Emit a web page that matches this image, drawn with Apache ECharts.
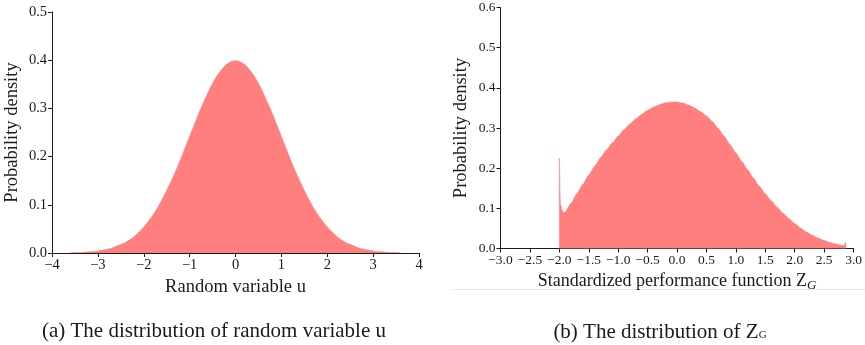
<!DOCTYPE html>
<html>
<head>
<meta charset="utf-8">
<script src="https://cdn.jsdelivr.net/npm/echarts/dist/echarts.min.js"></script>
<style>
  html, body { margin: 0; padding: 0; background: #fff; }
  #chart { width: 865px; height: 345px; }
</style>
</head>
<body>
<div id="chart"></div>
<script>
// (a) random variable u - density
const uValues = [
  -3.6, -3.5, -3.4, -3.3, -3.2, -3.1, -3.0, -2.9, -2.8, -2.7, -2.6, -2.5, -2.4, -2.3, -2.2, -2.1,
  -2.0, -1.9, -1.8, -1.7, -1.6, -1.5, -1.4, -1.3, -1.2, -1.1, -1.0, -0.9, -0.8, -0.7, -0.6, -0.5,
  -0.4, -0.3, -0.2, -0.1, 0.0, 0.1, 0.2, 0.3, 0.4, 0.5, 0.6, 0.7, 0.8, 0.9, 1.0, 1.1, 1.2, 1.3,
  1.4, 1.5, 1.6, 1.7, 1.8, 1.9, 2.0, 2.1, 2.2, 2.3, 2.4, 2.5, 2.6, 2.7, 2.8, 2.9, 3.0, 3.1, 3.2,
  3.3, 3.4, 3.5, 3.6
]
const uDensity = [
  0.0006, 0.0009, 0.0012, 0.0017, 0.0024, 0.0033, 0.0044, 0.006, 0.008, 0.010, 0.014, 0.018, 0.022, 0.028, 0.035, 0.044,
  0.054, 0.066, 0.079, 0.094, 0.111, 0.130, 0.150, 0.171, 0.194, 0.218, 0.242, 0.266, 0.290, 0.312, 0.333, 0.352,
  0.368, 0.381, 0.391, 0.397, 0.399, 0.397, 0.391, 0.381, 0.368, 0.352, 0.333, 0.312, 0.290, 0.266, 0.242, 0.218, 0.194, 0.171,
  0.150, 0.130, 0.111, 0.094, 0.079, 0.066, 0.054, 0.044, 0.035, 0.028, 0.022, 0.018, 0.014, 0.010, 0.008, 0.006, 0.0044, 0.0033, 0.0024,
  0.0017, 0.0012, 0.0009, 0.0006
]

// (b) standardized performance function ZG
const zgValues = [
  -2.0, -2.0, -1.99, -1.98, -1.95, -1.92, -1.9, -1.8, -1.7, -1.6, -1.5, -1.4, -1.3, -1.2, -1.1, -1.0,
  -0.9, -0.8, -0.7, -0.6, -0.5, -0.4, -0.3, -0.2, -0.1, 0.0, 0.1, 0.2, 0.3, 0.4, 0.5, 0.6, 0.7, 0.8,
  0.9, 1.0, 1.1, 1.2, 1.3, 1.4, 1.5, 1.6, 1.7, 1.8, 1.9, 2.0, 2.1, 2.2, 2.3, 2.4, 2.5, 2.6, 2.7, 2.8,
  2.85, 2.85, 2.87, 2.87
]
const zgDensity = [
  0, 0.225, 0.225, 0.110, 0.094, 0.089, 0.091, 0.113, 0.137, 0.160, 0.183, 0.205, 0.226, 0.245, 0.263, 0.280,
  0.296, 0.310, 0.323, 0.334, 0.344, 0.352, 0.358, 0.363, 0.365, 0.365, 0.362, 0.357, 0.350, 0.341, 0.330, 0.316, 0.299, 0.280,
  0.259, 0.238, 0.217, 0.196, 0.175, 0.155, 0.136, 0.119, 0.103, 0.088, 0.075, 0.062, 0.051, 0.041, 0.033, 0.026, 0.020, 0.015, 0.011, 0.008,
  0.007, 0.014, 0.014, 0
]

const uTicks = { min: -4, max: 4, interval: 1 }
const zgTicks = { min: -3, max: 3, interval: 0.5 }

const FONT = 'Liberation Serif'
const INK = '#1a1a1a'
const FILL = '#ff7f7f'

const fmtAxis = (digits) => (v) => v.toFixed(digits).replace('-', '\u2212')

const xAxisBase = (ticks, digits, gridIndex, name, nameGap, nameSize, labelSize) => ({
  type: 'value',
  gridIndex,
  min: ticks.min,
  max: ticks.max,
  interval: ticks.interval,
  name,
  nameLocation: 'middle',
  nameGap,
  nameTextStyle: { fontFamily: FONT, fontSize: nameSize, color: INK, rich: {
    sub: { fontFamily: FONT, fontSize: 13, fontStyle: 'italic', color: INK, padding: [8, 0, 0, 0] }
  } },
  axisLine: { onZero: false, lineStyle: { color: INK, width: 1 } },
  axisTick: { show: true, length: 4, lineStyle: { color: INK } },
  axisLabel: { fontFamily: FONT, fontSize: labelSize, color: INK, margin: 5, formatter: fmtAxis(digits), showMinLabel: true, showMaxLabel: true },
  splitLine: { show: false }
})

const yAxisBase = (max, gridIndex, labelSize) => ({
  type: 'value',
  gridIndex,
  min: 0,
  max,
  interval: 0.1,
  name: 'Probability density',
  nameLocation: 'middle',
  nameGap: 30,
  nameTextStyle: { fontFamily: FONT, fontSize: 18.5, color: INK },
  axisLine: { show: true, onZero: false, lineStyle: { color: INK, width: 1 } },
  axisTick: { show: true, length: 4, lineStyle: { color: INK } },
  axisLabel: { fontFamily: FONT, fontSize: labelSize, color: INK, margin: 5, formatter: (v) => v.toFixed(1) },
  splitLine: { show: false }
})

const chart = echarts.init(document.getElementById('chart'))

const option = {
  animation: false,
  backgroundColor: '#fff',
  grid: [
    { left: 52, top: 12, width: 367, height: 241 },
    { left: 500.5, top: 7.5, width: 358.5, height: 241 }
  ],
  xAxis: [
    xAxisBase(uTicks, 0, 0, 'Random variable u', 22, 18.5, 14.5),
    xAxisBase(zgTicks, 1, 1, 'Standardized performance function Z{sub|G}', 19, 18, 13.5)
  ],
  yAxis: [
    yAxisBase(0.5, 0, 14.5),
    yAxisBase(0.6, 1, 13.5)
  ],
  series: [
    {
      type: 'line',
      xAxisIndex: 0,
      yAxisIndex: 0,
      data: uValues.map((x, i) => [x, uDensity[i]]),
      symbol: 'none',
      smooth: 0.3,
      lineStyle: { width: 0.5, color: FILL },
      areaStyle: { color: FILL, opacity: 1 }
    },
    {
      type: 'line',
      xAxisIndex: 1,
      yAxisIndex: 1,
      data: zgValues.map((x, i) => [x, zgDensity[i]]),
      symbol: 'none',
      smooth: 0.2,
      smoothMonotone: 'x',
      lineStyle: { width: 0.5, color: FILL },
      areaStyle: { color: FILL, opacity: 1 }
    }
  ],
  graphic: [
    // thin separator under the right panel
    { type: 'line', shape: { x1: 452, y1: 289.5, x2: 865, y2: 289.5 }, style: { stroke: '#e8e8e8', lineWidth: 1 } },
    {
      type: 'text', x: 214, y: 331, style: {
        text: '(a) The distribution of random variable u',
        font: '21px "Liberation Serif"', fill: INK, align: 'center', verticalAlign: 'middle'
      }
    },
    {
      type: 'text', x: 660, y: 332, style: {
        text: '(b) The distribution of Z{s|G}',
        font: '21px "Liberation Serif"', fill: INK, align: 'center', verticalAlign: 'middle',
        rich: { s: { fontFamily: FONT, fontSize: 11, fill: INK, padding: [6, 0, 0, 0] } }
      }
    }
  ]
}

chart.setOption(option)
</script>
</body>
</html>
